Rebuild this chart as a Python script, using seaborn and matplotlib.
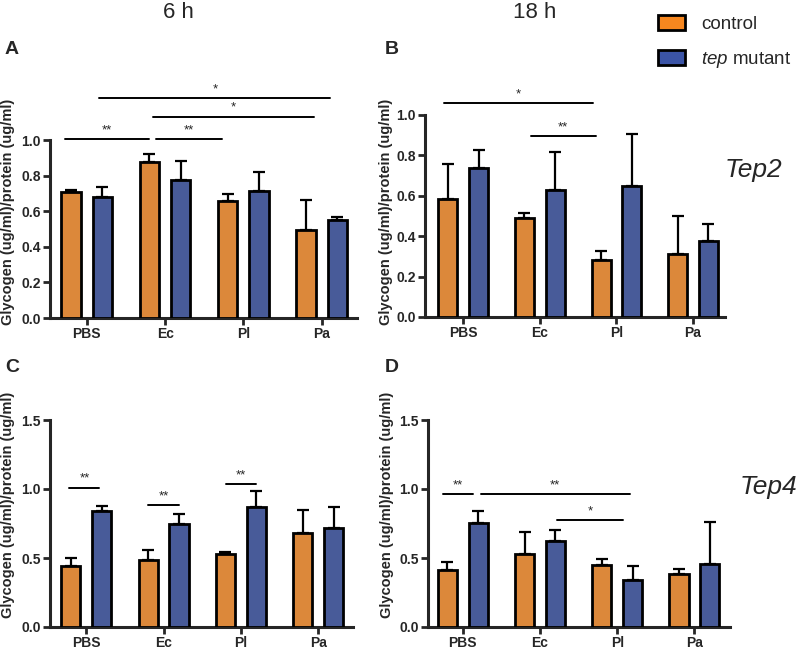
import pandas as pd
import matplotlib
matplotlib.use("Agg")
import matplotlib.pyplot as plt
import seaborn as sns
from matplotlib.patches import Patch

sns.set_style("ticks")
plt.rcParams['font.family'] = ['Liberation Sans', 'DejaVu Sans']
plt.rcParams['mathtext.fontset'] = 'custom'
plt.rcParams['mathtext.it'] = 'Liberation Sans:italic'
plt.rcParams['mathtext.rm'] = 'Liberation Sans'

# categorias e grupos
treatments = ["PBS", "Ec", "Pl", "Pa"]
genotypes = ["control", "tep mutant"]
colors = ["#F7871F", "#3B54A6"]

# valores medios (control, mutant) e topo das barras de erro
tep2_6h_control = [0.707, 0.875, 0.658, 0.497]
tep2_6h_mutant = [0.677, 0.776, 0.716, 0.550]
tep2_6h_control_top = [0.720, 0.923, 0.695, 0.664]
tep2_6h_mutant_top = [0.736, 0.884, 0.820, 0.570]

tep2_18h_control = [0.585, 0.491, 0.284, 0.310]
tep2_18h_mutant = [0.740, 0.628, 0.650, 0.374]
tep2_18h_control_top = [0.755, 0.516, 0.326, 0.499]
tep2_18h_mutant_top = [0.825, 0.817, 0.906, 0.460]

tep4_6h_control = [0.441, 0.485, 0.526, 0.678]
tep4_6h_mutant = [0.842, 0.745, 0.868, 0.716]
tep4_6h_control_top = [0.499, 0.559, 0.543, 0.851]
tep4_6h_mutant_top = [0.880, 0.820, 0.986, 0.866]

tep4_18h_control = [0.415, 0.526, 0.446, 0.386]
tep4_18h_mutant = [0.752, 0.620, 0.338, 0.458]
tep4_18h_control_top = [0.468, 0.685, 0.494, 0.420]
tep4_18h_mutant_top = [0.839, 0.702, 0.439, 0.762]

# significancia: (x1, x2, y, texto)
sig_A = [(-0.28, 0.80, 1.004, "**"), (0.88, 1.72, 1.004, "**"),
         (0.84, 2.90, 1.131, "*"), (0.16, 3.11, 1.236, "*")]
sig_B = [(-0.25, 1.70, 1.058, "*"), (0.88, 1.73, 0.896, "**")]
sig_C = [(-0.22, 0.17, 1.010, "**"), (0.80, 1.20, 0.885, "**"), (1.81, 2.19, 1.034, "**")]
sig_D = [(-0.25, 0.13, 0.965, "**"), (0.23, 2.16, 0.965, "**"), (1.22, 2.07, 0.776, "*")]

W, H = 800, 654
fig = plt.figure(figsize=(8, 6.54), dpi=100)

def px_axes(left, right, top, bottom):
    return fig.add_axes([left / W, 1 - bottom / H, (right - left) / W, (bottom - top) / H])

paineis = [
    (px_axes(50, 357, 140, 318), tep2_6h_control, tep2_6h_mutant, tep2_6h_control_top, tep2_6h_mutant_top,
     sig_A, 1.0, [0, 0.2, 0.4, 0.6, 0.8, 1.0], (-0.47, 3.45), (-0.113, 0.595)),
    (px_axes(425, 725, 115, 317), tep2_18h_control, tep2_18h_mutant, tep2_18h_control_top, tep2_18h_mutant_top,
     sig_B, 1.0, [0, 0.2, 0.4, 0.6, 0.8, 1.0], (-0.5, 3.42), (-0.108, 0.52)),
    (px_axes(50, 353, 420, 627), tep4_6h_control, tep4_6h_mutant, tep4_6h_control_top, tep4_6h_mutant_top,
     sig_C, 1.5, [0, 0.5, 1.0, 1.5], (-0.47, 3.45), (-0.114, 0.59)),
    (px_axes(428, 730, 420, 627), tep4_18h_control, tep4_18h_mutant, tep4_18h_control_top, tep4_18h_mutant_top,
     sig_D, 1.5, [0, 0.5, 1.0, 1.5], (-0.45, 3.46), (-0.113, 0.59)),
]

for ax, ctrl, mut, ctrl_top, mut_top, sigs, ymax, yticks, xlim, lab_pos in paineis:
    df = pd.DataFrame({
        "Tratamento": treatments * 2,
        "Genotipo": [genotypes[0]] * 4 + [genotypes[1]] * 4,
        "Glicogenio": ctrl + mut,
    })
    sns.barplot(data=df, x="Tratamento", y="Glicogenio", hue="Genotipo", order=treatments,
                hue_order=genotypes, palette=colors, errorbar=None, gap=0.38,
                edgecolor="black", linewidth=2, legend=False, ax=ax, zorder=3)
    # barras de erro (so para cima)
    for cont, tops in zip(ax.containers, [ctrl_top, mut_top]):
        for bar, top in zip(cont, tops):
            x = bar.get_x() + bar.get_width() / 2
            h = bar.get_height()
            ax.errorbar(x, h, yerr=[[0], [top - h]], fmt="none", ecolor="black",
                        elinewidth=1.6, capsize=4.5, capthick=1.6, zorder=2, clip_on=False)
    ax.set_ylim(0, ymax)
    ax.set_yticks(yticks)
    ax.set_yticklabels([f"{t:.1f}" for t in yticks])
    ax.set_xlim(*xlim)
    ax.set_xlabel("")
    ax.set_ylabel("Glycogen (ug/ml)/protein (ug/ml)", fontsize=10.5, fontweight="bold")
    ax.yaxis.set_label_coords(*lab_pos)
    sns.despine(ax=ax)
    for s in ["left", "bottom"]:
        ax.spines[s].set_linewidth(2.2)
    ax.tick_params(axis="both", direction="out", length=5, width=2, labelsize=10, pad=1.5)
    for lab in ax.get_xticklabels() + ax.get_yticklabels():
        lab.set_fontweight("bold")
    for x1, x2, y, txt in sigs:
        ax.plot([x1, x2], [y, y], color="black", lw=1.4, clip_on=False, zorder=4)
        ax.annotate(txt, xy=((x1 + x2) / 2, y), xytext=(0, 2), textcoords="offset points",
                    ha="center", va="bottom", fontsize=9.5, annotation_clip=False)

# textos
fig.text(178 / W, 1 - 12 / H, "6 h", ha="center", va="center", fontsize=16)
fig.text(535 / W, 1 - 12 / H, "18 h", ha="center", va="center", fontsize=16)
for letra, (x, y) in zip("ABCD", [(12, 49), (392, 49), (12, 367), (392, 367)]):
    fig.text(x / W, 1 - y / H, letra, ha="center", va="center", fontsize=14, fontweight="bold")
fig.text(753 / W, 1 - 170 / H, "Tep2", ha="center", va="center", fontsize=19, style="italic")
fig.text(768 / W, 1 - 487 / H, "Tep4", ha="center", va="center", fontsize=19, style="italic")

handles = [Patch(facecolor=c, edgecolor="black", linewidth=2) for c in colors]
fig.legend(handles, ["control", r"$\mathit{tep}$ mutant"], loc="upper left",
           bbox_to_anchor=(658 / W, 1 - 15 / H), frameon=False, fontsize=13.5,
           handlelength=1.45, handleheight=0.85, handletextpad=0.85, labelspacing=0.9,
           borderpad=0, borderaxespad=0)

plt.savefig("out.png", dpi=100)
